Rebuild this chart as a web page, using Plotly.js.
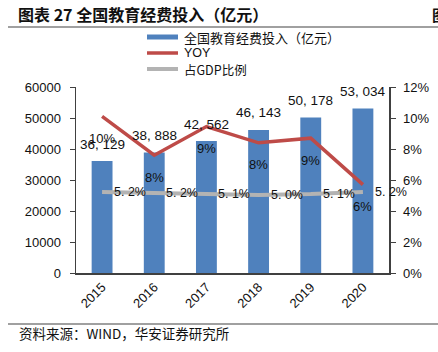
<!DOCTYPE html>
<html>
<head>
<meta charset="utf-8">
<script src="https://cdn.plot.ly/plotly-3.0.1.min.js"></script>
<style>html,body{margin:0;padding:0;background:#fff;}#chart{width:438px;height:352px;}</style>
</head>
<body>
<div id="chart"></div>
<script>
var years = ['2015','2016','2017','2018','2019','2020'];
var spending = [36129, 38888, 42562, 46143, 50178, 53034];
var yoy = [10.1, 7.6, 9.45, 8.4, 8.7, 5.7];
var gdpShare = [5.22, 5.17, 5.1, 5.03, 5.09, 5.23];
var gdpLabels = ['5. 2%','5. 2%','5. 1%','5. 0%','5. 1%','5. 2%'];
var yoyLabels = ['10%','8%','9%','8%','9%','6%'];

var W = 438, H = 352, L = 76, R = 49, T = 87, B = 79;
var pw = W - L - R, ph = H - T - B;
function px(x){ return (x - L) / pw; }
function py(y){ return (H - B - y) / ph; }

var NUM = 'Liberation Sans, Arial, sans-serif';
var CJK = 'Noto Sans CJK SC, sans-serif';
var BLUE = '#4F81BD', RED = '#BE4B48', GRAY = '#B3B3B3', AX = '#404040';

function fmt(v){ return v.toLocaleString('en-US').replace(/,/g, ', '); }

var traces = [
  {type:'bar', x: years, y: spending, width: 0.4, marker:{color: BLUE}, showlegend:false, hoverinfo:'none'},
  {type:'scatter', mode:'lines', x: years, y: yoy, yaxis:'y2', line:{color: RED, width:3.5}, showlegend:false, hoverinfo:'none'},
  {type:'scatter', mode:'lines', x: years, y: gdpShare, yaxis:'y2', line:{color: GRAY, width:4}, showlegend:false, hoverinfo:'none'}
];

var ann = [];
years.forEach(function(yr, i){
  ann.push({x: i, y: spending[i], xref:'x', yref:'y', text: fmt(spending[i]), showarrow:false,
    yanchor:'middle', yshift:17, font:{family:NUM, size:13.5, color:'#111'}});
  ann.push({x: i, y: yoy[i], xref:'x', yref:'y2', text: yoyLabels[i], showarrow:false,
    yanchor:'middle', yshift:-22, font:{family:NUM, size:13, color:'#111'}});
  ann.push({x: i, y: gdpShare[i], xref:'x', yref:'y2', text: gdpLabels[i], showarrow:false,
    yanchor:'middle', xshift:28, font:{family:NUM, size:12.5, color:'#111'}});
});

ann.push({xref:'paper', yref:'paper', x: px(182), y: py(37), xanchor:'left', yanchor:'middle', showarrow:false,
  text:'全国教育经费投入（亿元）', font:{family:CJK, size:13, color:'#111'}});
ann.push({xref:'paper', yref:'paper', x: px(182), y: py(53), xanchor:'left', yanchor:'middle', showarrow:false,
  text:'YOY', font:{family:NUM, size:12.5, color:'#111'}});
ann.push({xref:'paper', yref:'paper', x: px(182), y: py(69), xanchor:'left', yanchor:'middle', showarrow:false,
  text:'占GDP比例', font:{family:CJK, size:12.5, color:'#111'}});
ann.push({xref:'paper', yref:'paper', x: px(17), y: py(333), xanchor:'left', yanchor:'middle', showarrow:false,
  text:'资料来源：WIND，华安证券研究所', font:{family:CJK, size:13.5, color:'#111'}});
ann.push({xref:'paper', yref:'paper', x: px(430), y: py(15), xanchor:'left', yanchor:'middle', showarrow:false,
  text:'<b>图</b>', font:{family:CJK, size:15, color:'#111'}});

var shapes = [
  {type:'line', xref:'paper', yref:'paper', x0: px(8), x1: px(438), y0: py(27), y1: py(27), line:{color:'#A0A0A0', width:2}},
  {type:'line', xref:'paper', yref:'paper', x0: px(8), x1: px(438), y0: py(324), y1: py(324), line:{color:'#A0A0A0', width:2}},
  {type:'rect', xref:'paper', yref:'paper', x0: px(147), x1: px(178), y0: py(39.5), y1: py(34.5), fillcolor: BLUE, line:{width:0}},
  {type:'line', xref:'paper', yref:'paper', x0: px(147), x1: px(178), y0: py(53), y1: py(53), line:{color: RED, width:3.5}},
  {type:'line', xref:'paper', yref:'paper', x0: px(147), x1: px(178), y0: py(69), y1: py(69), line:{color: GRAY, width:4}}
];

var layout = {
  width: W, height: H,
  margin:{l:L, r:R, t:T, b:B, pad:0},
  paper_bgcolor:'#fff', plot_bgcolor:'#fff',
  title:{text:'<b>图表 27 全国教育经费投入（亿元）</b>', xref:'container', yref:'container',
    x: 18/W, xanchor:'left', y: 1 - 15/H, yanchor:'middle', font:{family:CJK, size:16, color:'#111'}},
  xaxis:{type:'category', range:[-0.5, 5.5], showline:true, linecolor:AX, linewidth:1.5, ticks:'', tickangle:-45,
    tickfont:{family:NUM, size:13, color:'#111'}, showgrid:false, zeroline:false, fixedrange:true},
  yaxis:{range:[0,60000], dtick:10000, showline:true, linecolor:AX, linewidth:1.5, ticks:'outside', ticklen:5, tickcolor:AX,
    tickfont:{family:NUM, size:13, color:'#111'}, showgrid:false, zeroline:false, ticklabelstandoff:6, tickformat:'d'},
  yaxis2:{range:[0,12], dtick:2, overlaying:'y', side:'right', showline:true, linecolor:AX, linewidth:1.5, ticks:'outside', ticklen:5, tickcolor:AX,
    ticksuffix:'%', tickfont:{family:NUM, size:13, color:'#111'}, showgrid:false, zeroline:false, ticklabelstandoff:5},
  annotations: ann, shapes: shapes, showlegend:false
};

Plotly.newPlot('chart', traces, layout, {displayModeBar:false, staticPlot:true});
</script>
</body>
</html>
